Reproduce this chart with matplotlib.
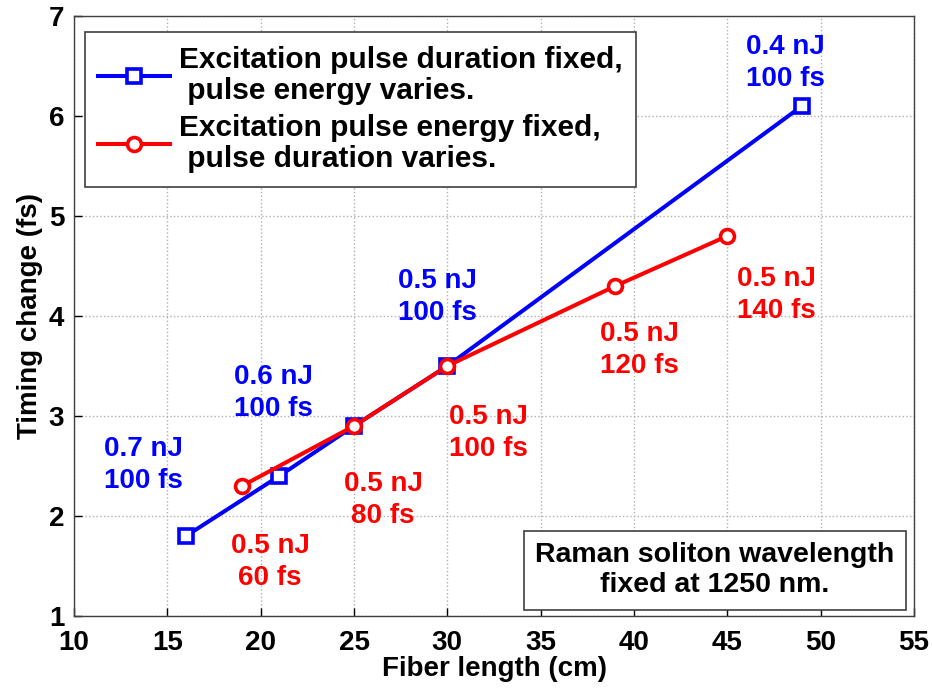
import matplotlib.pyplot as plt

plt.rcParams['font.family'] = ['Liberation Sans', 'DejaVu Sans']
plt.rcParams['font.weight'] = 'bold'
plt.rcParams['font.size'] = 20

# fiber length (cm) vs timing change (fs)
len_energy = [16, 21, 25, 30, 49]
dt_energy = [1.8, 2.4, 2.9, 3.5, 6.1]
lbl_energy = ['0.7 nJ\n100 fs', '0.6 nJ\n100 fs', '0.5 nJ\n100 fs', '0.5 nJ\n100 fs', '0.4 nJ\n100 fs']

len_duration = [19, 25, 30, 39, 45]
dt_duration = [2.3, 2.9, 3.5, 4.3, 4.8]
lbl_duration = ['0.5 nJ\n60 fs', '0.5 nJ\n80 fs', '0.5 nJ\n100 fs', '0.5 nJ\n120 fs', '0.5 nJ\n140 fs']

fig = plt.figure(figsize=(9.32, 6.89), dpi=100)
ax = fig.add_axes([0.0794, 0.106, 0.9013, 0.8708])

ax.plot(len_energy, dt_energy, color='#0000ff', lw=2.9, marker='s', ms=9.5,
        mfc='white', mew=2.6, label='Excitation pulse duration fixed,\n pulse energy varies.')
ax.plot(len_duration, dt_duration, color='#ff0000', lw=2.9, marker='o', ms=10,
        mfc='white', mew=2.6, label='Excitation pulse energy fixed,\n pulse duration varies.')

# label positions (data coords), blue set skips the shared 25 cm point
blue_pos = [(13.7, 2.51), (20.7, 3.23), (29.45, 4.19), (48.1, 6.53)]
blue_txt = [lbl_energy[0], lbl_energy[1], lbl_energy[3], lbl_energy[4]]
for (x, y), t in zip(blue_pos, blue_txt):
    ax.text(x, y, t, color='#0000ff', ha='center', va='center', fontsize=20,
            fontweight='bold', linespacing=1.3)

red_pos = [(20.5, 1.54), (26.55, 2.16), (32.2, 2.83), (40.3, 3.66), (47.65, 4.21)]
for (x, y), t in zip(red_pos, lbl_duration):
    ax.text(x, y, t, color='#ff0000', ha='center', va='center', fontsize=20,
            fontweight='bold', linespacing=1.3)

ax.set_xlim(10, 55)
ax.set_ylim(1, 7)
ax.set_xticks(range(10, 56, 5))
ax.set_yticks(range(1, 8))
ax.tick_params(axis='x', direction='in', length=6, width=1, labelsize=20, pad=10)
ax.tick_params(axis='y', direction='in', length=6, width=1, labelsize=20, pad=7)
for lab in ax.get_xticklabels() + ax.get_yticklabels():
    lab.set_fontweight('bold')
ax.grid(True, linestyle=':', color='#b0b0b0', lw=1)
for s in ax.spines.values():
    s.set_color('#404040')
    s.set_linewidth(1)

ax.set_xlabel('Fiber length (cm)', fontsize=20, fontweight='bold', labelpad=0)
ax.set_ylabel('Timing change (fs)', fontsize=20, fontweight='bold', labelpad=4)

leg = ax.legend(loc='upper left', bbox_to_anchor=(0.013, 0.973), fontsize=21.5,
                handlelength=2.4, handletextpad=0.3, borderaxespad=0,
                fancybox=False, framealpha=1, edgecolor='#404040',
                borderpad=0.45, labelspacing=0.3)
leg.get_frame().set_linewidth(1.2)
for t in leg.get_texts():
    t.set_fontweight('bold')
    t.set_linespacing(1.15)

ax.text(0.763, 0.076, 'Raman soliton wavelength\nfixed at 1250 nm.', transform=ax.transAxes,
        ha='center', va='center', fontsize=20.5, fontweight='bold', linespacing=1.2,
        bbox=dict(boxstyle='square,pad=0.4', fc='white', ec='#404040', lw=1.2))

fig.savefig('out.png', dpi=100)
